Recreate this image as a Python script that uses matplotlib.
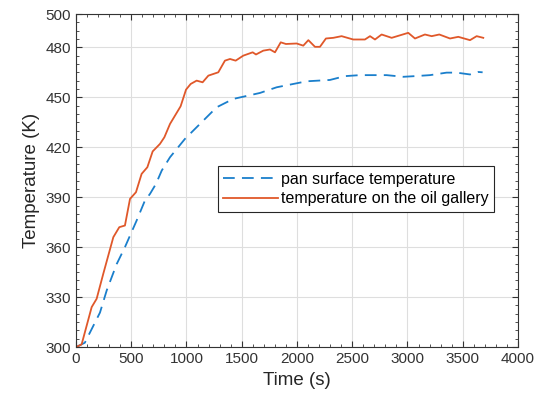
import matplotlib.pyplot as plt
from matplotlib.ticker import MultipleLocator

# values
pan_time = [0, 80, 217, 278, 368, 443, 549, 624, 670, 724, 776, 851, 986, 1122,
            1273, 1423, 1665, 1816, 1997, 2088, 2193, 2298, 2434, 2570, 2676,
            2811, 2962, 3068, 3204, 3354, 3445, 3566, 3641, 3680]
pan_temp = [300, 302.6, 320.7, 334, 349.8, 360, 376, 388, 392, 398, 406, 414,
            425, 434, 444, 449, 452.6, 456, 458.4, 459.6, 460, 460.4, 462.7,
            463.3, 463.3, 463.3, 462.3, 462.7, 463.3, 464.8, 464.8, 463.7,
            465.2, 465.0]

oil_time = [0, 51, 142, 187, 247, 338, 392, 443, 489, 543, 594, 646, 694, 760,
            800, 851, 947, 996, 1038, 1092, 1146, 1198, 1288, 1348, 1394, 1445,
            1514, 1599, 1629, 1695, 1756, 1801, 1853, 1900, 1997, 2057, 2103,
            2163, 2208, 2262, 2329, 2404, 2509, 2615, 2661, 2706, 2766, 2857,
            3007, 3068, 3158, 3219, 3288, 3385, 3460, 3566, 3626, 3686]
oil_temp = [300, 301.6, 324, 329, 344, 366, 372, 373, 389, 393, 404, 408,
            417.5, 422, 426, 434, 444.6, 454.6, 458, 460, 459, 463, 465, 472,
            473, 472, 475, 477, 475.7, 478, 478.7, 477, 483, 482, 482.3, 481,
            484.3, 480.3, 480.3, 485.3, 485.7, 486.7, 484.7, 484.7, 486.7,
            484.7, 487.7, 485.7, 488.7, 485.3, 487.7, 486.7, 487.7, 485.3,
            486.3, 484.3, 486.7, 485.7]

x_ticks = [0, 500, 1000, 1500, 2000, 2500, 3000, 3500, 4000]
y_ticks = [300, 330, 360, 390, 420, 450, 480, 500]

plt.rcParams['font.family'] = ['Liberation Sans', 'DejaVu Sans']

fig = plt.figure(figsize=(5.4, 4.05), dpi=100)
ax = fig.add_axes([0.1407, 0.143, 0.8185, 0.8224])

ax.plot(pan_time, pan_temp, color='#1a7fcc', linestyle=(0, (6.5, 4)),
        linewidth=1.3, label='pan surface temperature')
ax.plot(oil_time, oil_temp, color='#e0582a', linewidth=1.3,
        label='temperature on the oil gallery')

ax.set_xlim(0, 4000)
ax.set_ylim(300, 500)
ax.set_xticks(x_ticks)
ax.set_yticks(y_ticks)
ax.xaxis.set_minor_locator(MultipleLocator(100))
ax.yaxis.set_minor_locator(MultipleLocator(5))
ax.tick_params(which='both', direction='in', top=True, right=True,
               labelsize=11, colors='#333333')
ax.tick_params(which='major', length=4)
ax.tick_params(which='minor', length=2)
for s in ax.spines.values():
    s.set_color('#333333')
    s.set_linewidth(0.8)
ax.grid(True, which='major', color='#dedede', linewidth=0.8)

ax.set_xlabel('Time (s)', fontsize=13.5, color='#262626')
ax.set_ylabel('Temperature (K)', fontsize=13.5, color='#262626')

leg = ax.legend(loc='upper left', bbox_to_anchor=(0.321, 0.5435),
                fontsize=11.5, fancybox=False, framealpha=1,
                edgecolor='#262626', handlelength=3.4, handletextpad=0.2,
                borderpad=0.35, labelspacing=0.3, borderaxespad=0)
leg.get_frame().set_linewidth(0.8)

fig.savefig('out.png', dpi=100)
